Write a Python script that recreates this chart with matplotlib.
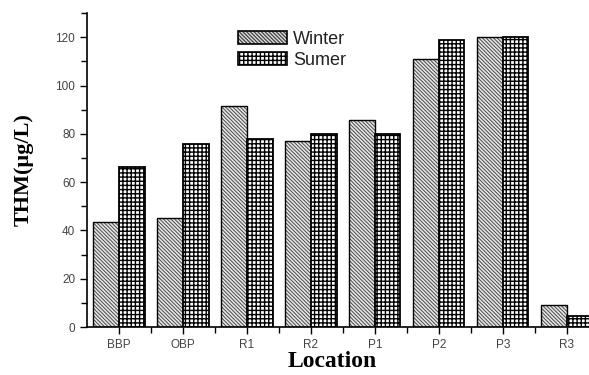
import numpy as np
import matplotlib
matplotlib.use('Agg')
import matplotlib.pyplot as plt
from matplotlib.ticker import MultipleLocator
from matplotlib.patches import Patch

# Data
locations = ['BBP', 'OBP', 'R1', 'R2', 'P1', 'P2', 'P3', 'R3']
winter = [43.5, 45.2, 91.6, 77.2, 85.6, 111.2, 120.0, 9.1]
summer = [66.3, 75.6, 77.9, 80.0, 80.0, 119.0, 120.0, 4.5]

fig = plt.figure(figsize=(5.89, 3.75), dpi=100)
ax = fig.add_axes([0.1477, 0.128, 0.869, 0.837])

x = np.arange(len(locations))
w = 0.4
w_hatch = '\\\\\\\\\\\\\\\\\\'
s_hatch = '++++'

# Winter: gray diagonal hatch, black outline on top
plt.rcParams['hatch.linewidth'] = 0.7
ax.bar(x - w / 2, winter, w, facecolor='#e6e6e6', edgecolor='#4a4a4a',
       hatch=w_hatch, linewidth=0)
leg_w = Patch(facecolor='#e6e6e6', edgecolor='#4a4a4a', hatch=w_hatch, linewidth=0)
ax.bar(x - w / 2, winter, w, fill=False, edgecolor='black', linewidth=1.0)

# Summer: dense black grid
plt.rcParams['hatch.linewidth'] = 1.0
ax.bar(x + w / 2, summer, w, facecolor='white', edgecolor='black',
       hatch=s_hatch, linewidth=0)
leg_s = Patch(facecolor='white', edgecolor='black', hatch=s_hatch, linewidth=0)
ax.bar(x + w / 2, summer, w, fill=False, edgecolor='black', linewidth=1.3)

ax.set_xlim(-0.5, 7.5)
ax.set_ylim(0, 130)

ax.spines['top'].set_visible(False)
ax.spines['right'].set_visible(False)
ax.spines['left'].set_linewidth(1.2)
ax.spines['bottom'].set_linewidth(1.2)

ax.set_xticks(x)
ax.set_xticklabels(locations)
ax.set_xticks(x + 0.5, minor=True)
ax.set_yticks(np.arange(0, 121, 20))
ax.yaxis.set_minor_locator(MultipleLocator(10))
ax.tick_params(axis='both', which='major', length=5, width=1, direction='out',
               labelsize=8.5, labelcolor='#444444')
ax.tick_params(axis='both', which='minor', length=4, width=1, direction='out')
for lab in ax.get_xticklabels() + ax.get_yticklabels():
    lab.set_family('Liberation Sans')

fig.text(0.041, 0.547, 'THM(\u00b5g/L)', rotation=90, ha='center', va='center',
         family='Liberation Serif', fontweight='bold', fontsize=16)
fig.text(0.564, 0.035, 'Location', ha='center', va='center',
         family='Liberation Serif', fontweight='bold', fontsize=17)

# legend: hatch patch with a black outline drawn over it
edge = Patch(fill=False, edgecolor='black', linewidth=1.2)
leg = ax.legend([(leg_w, edge), (leg_s, edge)], ['Winter', 'Sumer'], loc='upper left',
                bbox_to_anchor=(229 / 589, 1 - 22 / 375), bbox_transform=fig.transFigure,
                frameon=False, handlelength=2.7, handleheight=0.7,
                handletextpad=0.35, labelspacing=0.2, borderpad=0,
                prop={'family': 'Liberation Sans', 'size': 13})
for t in leg.get_texts():
    t.set_color('#222222')

fig.savefig('out.png', dpi=100)
